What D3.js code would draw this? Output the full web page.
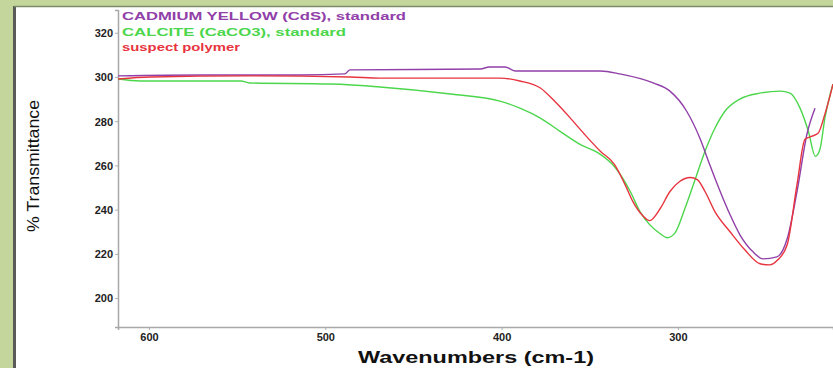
<!DOCTYPE html>
<html>
<head>
<meta charset="utf-8">
<script src="https://cdn.jsdelivr.net/npm/d3@7"></script>
<style>
  html, body { margin: 0; padding: 0; background: #c4d69b; }
  svg { display: block; }
</style>
</head>
<body>
<svg id="chart" width="833" height="368"></svg>
<script>
// IR spectra, far-IR region (wavenumber in cm-1, % transmittance)
const cdsWavenumbers = [617.6, 571, 514, 489, 486, 412, 407, 398, 392, 344, 333, 314, 304.5, 295, 287.5, 282, 276, 270.4, 264.8, 257.4, 251.7, 243.8, 238, 232.4, 226.8, 222.2];
const cdsValues      = [300.5, 300.9, 300.9, 301.4, 303.2, 303.6, 304.5, 304.5, 302.7, 302.7, 301.4, 297.3, 293.6, 284.5, 272.3, 260.5, 248.2, 237.7, 228.6, 220.9, 217.7, 218.6, 226.8, 248.2, 274.1, 285.9];

const calciteWavenumbers = [617.6, 605, 548, 543, 497, 469, 429, 401, 389.6, 378, 367, 355.5, 344, 336, 327, 321.5, 316, 310, 306, 301.6, 296, 290, 284.6, 279, 273.3, 264.8, 253.4, 242, 236.4, 230.7, 226, 222, 219.4, 216.6, 212];
const calciteValues      = [299.1, 298.2, 298.2, 297.3, 296.8, 295.5, 292.3, 289.1, 285.9, 281.4, 275.5, 269.5, 265.0, 259.5, 248.2, 239.1, 233.2, 229.1, 227.3, 229.5, 240.5, 254.1, 266.4, 276.8, 284.5, 290.0, 292.7, 293.6, 292.7, 285.9, 275.5, 264.1, 267.3, 281.4, 296.8];

const polymerWavenumbers = [617.6, 599, 543, 486, 469, 401, 389.6, 378, 370, 361, 353, 344, 336, 330, 325.5, 320, 316, 310, 304.5, 299, 293, 289, 284.6, 279, 270.4, 262, 253.4, 248, 243.3, 238, 232.4, 227.9, 224, 220.5, 216.6, 212];
const polymerValues      = [299.1, 300, 300.5, 300, 299.5, 299.5, 298.2, 295.0, 289.1, 281.4, 274.1, 266.4, 260.5, 251.4, 243.6, 237.3, 235.0, 240.5, 248.2, 252.7, 254.5, 253.6, 248.2, 239.1, 230.0, 221.8, 215.5, 215.0, 217.3, 224.1, 251.4, 271.8, 273.2, 274.5, 283.2, 296.8];

const seriesNames  = ["CADMIUM YELLOW (CdS), standard", "CALCITE (CaCO3), standard", "suspect polymer"];
const seriesColors = ["#9040a8", "#4cd64c", "#e8343e"];

const xTicks = [600, 500, 400, 300];
const yTicks = [200, 220, 240, 260, 280, 300, 320];

const svg = d3.select("#chart");

// white panel with a dark left edge
svg.append("rect").attr("x", 15).attr("y", 7).attr("width", 818).attr("height", 361).attr("fill", "#ffffff");
svg.append("line").attr("x1", 14.5).attr("x2", 14.5).attr("y1", 6).attr("y2", 368).attr("stroke", "#5a5a5a").attr("stroke-width", 3);
svg.append("line").attr("x1", 14).attr("x2", 833).attr("y1", 6.5).attr("y2", 6.5).attr("stroke", "#7d8a66").attr("stroke-width", 1.5);

const plot = { left: 118, right: 833, top: 10, bottom: 327 };

const x = d3.scaleLinear().domain([617.6, 212]).range([plot.left, plot.right]);
const y = d3.scaleLinear().domain([186.9, 330.3]).range([plot.bottom, plot.top]);

// axes
const xAxis = d3.axisBottom(x).tickValues(xTicks).tickSize(3).tickPadding(3).tickFormat(d3.format("d"));
const yAxis = d3.axisLeft(y).tickValues(yTicks).tickSize(3).tickPadding(2).tickFormat(d3.format("d"));

const gx = svg.append("g").attr("transform", `translate(0,${plot.bottom})`).call(xAxis);
const gy = svg.append("g").attr("transform", `translate(${plot.left},0)`).call(yAxis);

[gx, gy].forEach(g => {
  g.select(".domain").attr("stroke", "#a8a8a8").attr("stroke-width", 1.5);
  g.selectAll(".tick line").attr("stroke", "#b0b0b0");
  g.selectAll(".tick text")
    .attr("fill", "#222")
    .style("font-family", "'Liberation Sans', Arial, sans-serif")
    .style("font-weight", "bold")
    .style("font-size", "11px");
});
gy.selectAll(".tick text").attr("dy", "0.35em");

// clip series to the plot area
svg.append("clipPath").attr("id", "plot-clip")
  .append("rect").attr("x", plot.left).attr("y", plot.top)
  .attr("width", plot.right - plot.left).attr("height", plot.bottom - plot.top);

const line = d3.line()
  .x(d => x(d[0]))
  .y(d => y(d[1]))
  .curve(d3.curveMonotoneX);

const series = [
  [cdsWavenumbers, cdsValues],
  [calciteWavenumbers, calciteValues],
  [polymerWavenumbers, polymerValues]
];

const drawOrder = [1, 0, 2];
const gLines = svg.append("g").attr("clip-path", "url(#plot-clip)");
drawOrder.forEach(i => {
  const [ws, vs] = series[i];
  gLines.append("path")
    .datum(ws.map((w, k) => [w, vs[k]]))
    .attr("fill", "none")
    .attr("stroke", seriesColors[i])
    .attr("stroke-width", 1.4)
    .attr("stroke-linejoin", "round")
    .attr("d", line);
});

// legend
const legendWidths = [284, 224, 118];
seriesNames.forEach((name, i) => {
  svg.append("text")
    .attr("x", 122)
    .attr("y", 20 + i * 15.5)
    .attr("fill", seriesColors[i])
    .attr("textLength", legendWidths[i])
    .attr("lengthAdjust", "spacingAndGlyphs")
    .style("font-family", "'Liberation Sans', Arial, sans-serif")
    .style("font-weight", "bold")
    .style("font-size", "11.5px")
    .text(name);
});

// axis titles
svg.append("text")
  .attr("x", 476).attr("y", 363)
  .attr("text-anchor", "middle")
  .attr("textLength", 236)
  .attr("lengthAdjust", "spacingAndGlyphs")
  .attr("fill", "#111")
  .style("font-family", "'Liberation Sans', Arial, sans-serif")
  .style("font-weight", "bold")
  .style("font-size", "16px")
  .text("Wavenumbers (cm-1)");

svg.append("text")
  .attr("transform", "translate(39,166) rotate(-90)")
  .attr("text-anchor", "middle")
  .attr("textLength", 132)
  .attr("lengthAdjust", "spacingAndGlyphs")
  .attr("fill", "#111")
  .style("font-family", "'Liberation Sans Narrow', 'Liberation Sans', Arial, sans-serif")
  .style("font-size", "17px")
  .text("% Transmittance");
</script>
</body>
</html>
